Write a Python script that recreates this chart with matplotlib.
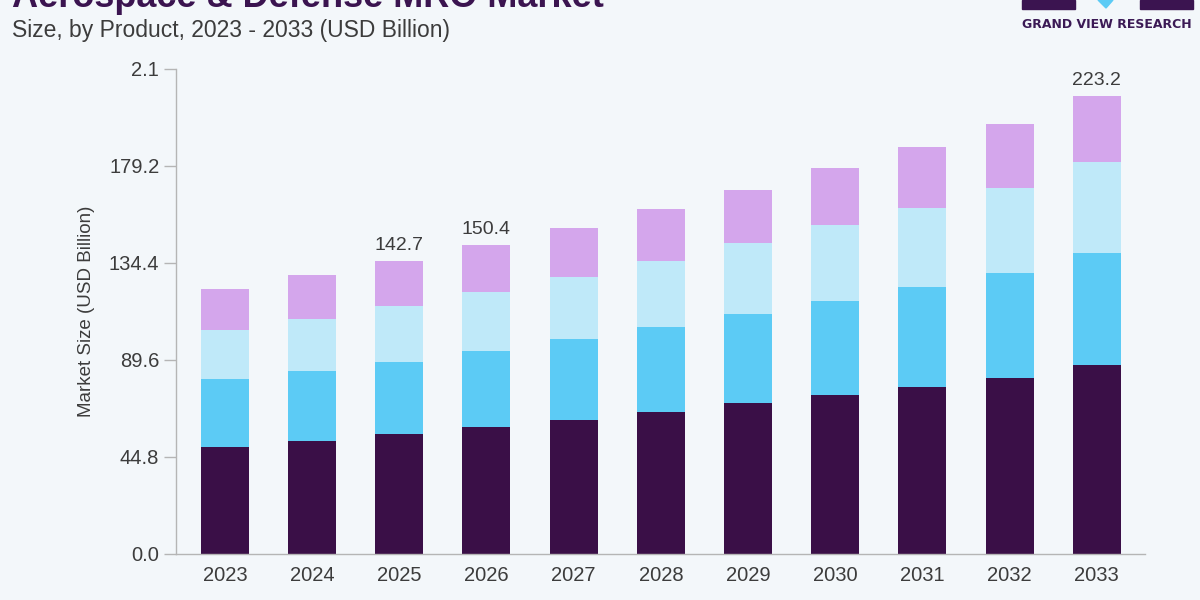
import matplotlib.pyplot as plt
import matplotlib.patches as mpatches
import numpy as np

# market size by product segment (USD Billion)
years = ["2023", "2024", "2025", "2026", "2027", "2028", "2029", "2030", "2031", "2032", "2033"]
seg_dark = [49.4, 52.2, 55.4, 58.7, 61.9, 65.6, 69.7, 73.4, 77.1, 81.3, 87.3]
seg_blue = [31.4, 32.3, 33.3, 35.1, 37.4, 39.2, 41.2, 43.5, 46.2, 48.5, 51.7]
seg_light = [22.7, 24.0, 25.8, 27.2, 28.6, 30.5, 32.7, 35.1, 36.5, 39.3, 42.1]
seg_purple = [18.9, 20.4, 20.8, 21.7, 22.7, 24.1, 24.5, 26.3, 28.2, 29.5, 30.4]

# totals printed above some bars
label_years = ["2025", "2026", "2033"]
label_text = ["142.7", "150.4", "223.2"]

ytick_vals = [0, 44.8, 89.6, 134.4, 179.2, 224.0]
ytick_text = ["0.0", "44.8", "89.6", "134.4", "179.2", "2.1"]

colors = ["#3a0f47", "#5ccbf5", "#bfe9f9", "#d4a6ec"]
bg = "#f3f7fa"

plt.rcParams["font.family"] = ["Liberation Sans", "DejaVu Sans"]

fig = plt.figure(figsize=(12, 6), dpi=100, facecolor=bg)
ax = fig.add_axes([0.1467, 0.0767, 0.8073, 0.8083], facecolor=bg)

x = np.arange(len(years))
bottom = np.zeros(len(years))
for vals, c in zip([seg_dark, seg_blue, seg_light, seg_purple], colors):
    ax.bar(x, vals, width=0.55, bottom=bottom, color=c, linewidth=0)
    bottom = bottom + np.array(vals)

for yr, txt in zip(label_years, label_text):
    i = years.index(yr)
    ax.annotate(txt, (x[i], bottom[i]), xytext=(0, 5), textcoords="offset points",
                ha="center", va="bottom", fontsize=14, color="#3c3c3c",
                annotation_clip=False)

ax.set_xlim(-0.56, len(years) - 1 + 0.55)
ax.set_ylim(0, 224)
ax.set_xticks(x)
ax.set_xticklabels(years)
ax.set_yticks(ytick_vals)
ax.set_yticklabels(ytick_text)
ax.tick_params(axis="y", length=9, width=1, color="#b5b5b5", pad=3,
               labelsize=14.5, labelcolor="#3c3c3c")
ax.tick_params(axis="x", length=0, pad=9, labelsize=14.5, labelcolor="#3c3c3c")
for s in ["top", "right"]:
    ax.spines[s].set_visible(False)
for s in ["left", "bottom"]:
    ax.spines[s].set_color("#b5b5b5")
    ax.spines[s].set_linewidth(1)
ax.set_ylabel("Market Size (USD Billion)", fontsize=13.5, color="#3c3c3c", labelpad=10)

# title (cut off at top in the original) and subtitle
fig.text(0.01, 0.988, "Aerospace & Defense MRO Market", fontsize=26, fontweight="bold",
         color="#3b1450", va="baseline", ha="left")
fig.text(0.01, 0.95, "Size, by Product, 2023 - 2033 (USD Billion)", fontsize=16.5,
         color="#3c3c3c", va="center", ha="left")

# logo fragment
fig.patches.append(mpatches.Rectangle((1022 / 1200, 1 - 9 / 600), 53 / 1200, 9 / 600,
                                      transform=fig.transFigure, color="#3b1450"))
fig.patches.append(mpatches.Rectangle((1140 / 1200, 1 - 9 / 600), 53 / 1200, 9 / 600,
                                      transform=fig.transFigure, color="#3b1450"))
fig.patches.append(mpatches.Polygon([(1098 / 1200, 1.0), (1113 / 1200, 1.0), (1106 / 1200, 1 - 8 / 600)],
                                    closed=True, transform=fig.transFigure, color="#5ccbf5"))
fig.text(1107 / 1200, 1 - 25 / 600, "GRAND VIEW RESEARCH", fontsize=9, fontweight="bold",
         color="#3b1a55", ha="center", va="center", fontfamily="DejaVu Sans")

fig.savefig("out.png", dpi=100, facecolor=bg)
